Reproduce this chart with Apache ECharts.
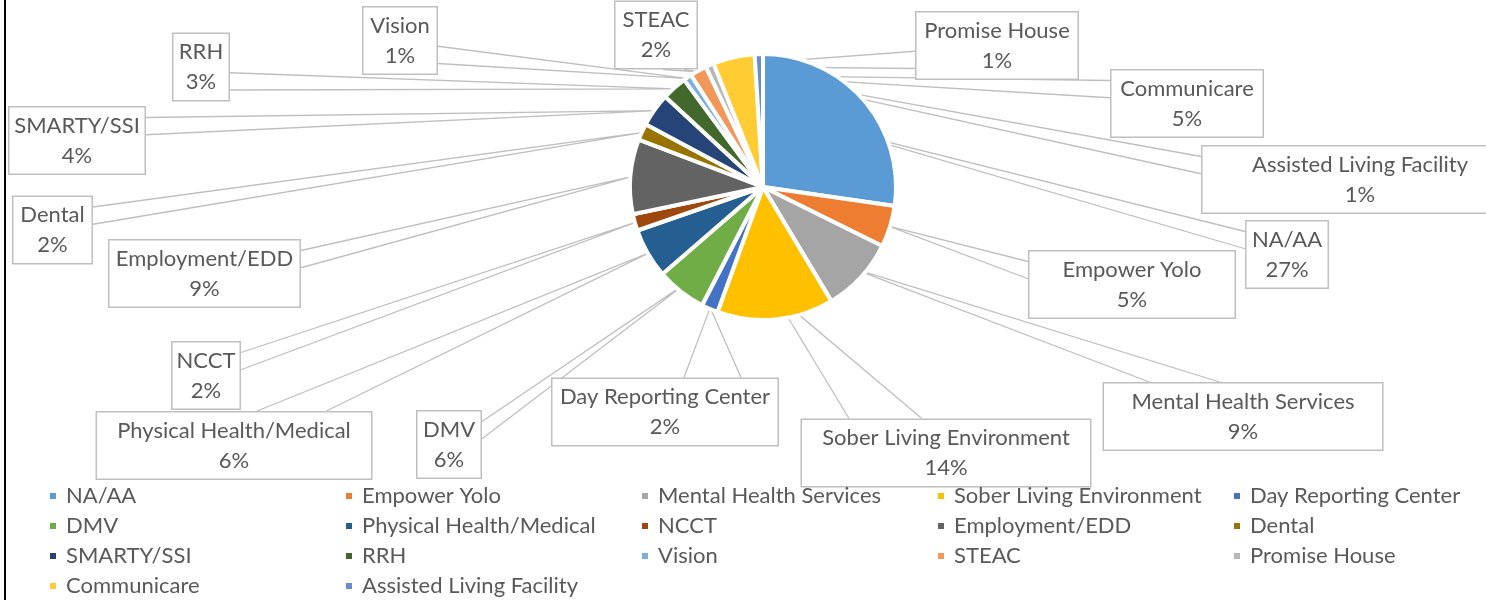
<!DOCTYPE html>
<html><head><meta charset="utf-8">
<script src="https://cdn.jsdelivr.net/npm/echarts@6/dist/echarts.min.js"></script>
<style>
html,body{margin:0;padding:0;background:#fff;}
#chart{position:absolute;left:0;top:0;width:1486px;height:600px;}
#edge{position:absolute;left:4px;top:0;width:2px;height:600px;background:#000;}
</style>
</head><body>
<div id="chart"></div><div id="edge"></div>
<script>
// ---- data ----
const categories = ["NA/AA","Empower Yolo","Mental Health Services","Sober Living Environment","Day Reporting Center","DMV","Physical Health/Medical","NCCT","Employment/EDD","Dental","SMARTY/SSI","RRH","Vision","STEAC","Promise House","Communicare","Assisted Living Facility"];
const values = [27,5,9,14,2,6,6,2,9,2,4,3,1,2,1,5,1];
const colors = ["#5B9BD5","#ED7D31","#A5A5A5","#FFC000","#4472C4","#70AD47","#255E91","#9E480E","#636363","#997300","#264478","#43682B","#7CAFDD","#F1975A","#B7B7B7","#FFCD33","#698ED0"];

// ---- layout (label box centres, box widths, callout depth) ----
const CX = 763, CY = 187, R = 133;
const labelCenters = [[1287,254.5],[1132,284.5],[1243,416.5],[946,453],[665,412],[449,444.5],[234,445.5],[206,375.5],[204.5,273.5],[52.5,230],[77,140.5],[201,67],[400,40.5],[656,35],[997,45.5],[1187,103.5],[1360,179.5]];
const labelWidths = [84,208,281,291,228,66,277,70,193,81,138,58,76,84,164,154,318];
const calloutDepth = [0.68,0.99,0.89,0.8,0.99,0.9,0.99,0.99,0.99,0.99,0.99,0.99,0.99,0.99,0.99,0.86,0.83];

const total = values.reduce((a,b)=>a+b,0);
const cum = []; values.reduce((a,v,i)=>{cum[i]=a; return a+v;},0);

const chart = echarts.init(document.getElementById('chart'));
const FONT = 'Lato';
chart.setOption({
  animation:false,
  color: colors,
  legend:{
    data: categories, left:48, top:484, width:1700, padding:0,
    icon:'rect', itemWidth:8, itemHeight:8, itemGap:6, selectedMode:false,
    textStyle:{color:'#595959', fontFamily:FONT, fontSize:22, lineHeight:24, width:272, padding:[0,0,0,4]}
  },
  series:[{
    type:'pie', center:[CX,CY], radius:R, startAngle:90, clockwise:true,
    avoidLabelOverlap:false,
    data: categories.map((c,i)=>({name:c, value:values[i], label:{width:labelWidths[i]-3}})),
    itemStyle:{borderColor:'#fff', borderWidth:4},
    emphasis:{disabled:true},
    label:{
      show:true, position:'outside',
      formatter: p => p.name + '\n' + Math.round(p.percent) + '%',
      color:'#595959', fontFamily:FONT, fontSize:22, lineHeight:30,
      backgroundColor:'#fff', borderColor:'#BFBFBF', borderWidth:1.5, padding:[3,0],
      align:'center', verticalAlign:'middle'
    },
    labelLine:{show:true, smooth:false, lineStyle:{color:'#BFBFBF', width:1.3}},
    labelLayout: function(p){
      const i = p.dataIndex;
      const c = labelCenters[i];
      const w = p.labelRect.width, h = p.labelRect.height;
      const left = c[0]-w/2, top = c[1]-h/2;
      const a = (cum[i] + values[i]/2)/total*Math.PI*2;
      const k = calloutDepth[i]*R;
      const apex = [CX + Math.sin(a)*k, CY - Math.cos(a)*k];
      const dx = apex[0]-c[0], dy = apex[1]-c[1];
      let b1, b2;
      if (Math.abs(dx)/w > Math.abs(dy)/h) {
        const xe = dx>0 ? left+w : left;
        b1=[xe, top + h*(dy>0?7:2)/12]; b2=[xe, top + h*(dy>0?10:5)/12];
      } else {
        const ye = dy>0 ? top+h : top;
        b1=[left + w*(dx>0?7:2)/12, ye]; b2=[left + w*(dx>0?10:5)/12, ye];
      }
      return {x:c[0], y:c[1], align:'center', verticalAlign:'middle', labelLinePoints:[b1, apex, b2]};
    }
  }]
});
</script>
</body></html>
